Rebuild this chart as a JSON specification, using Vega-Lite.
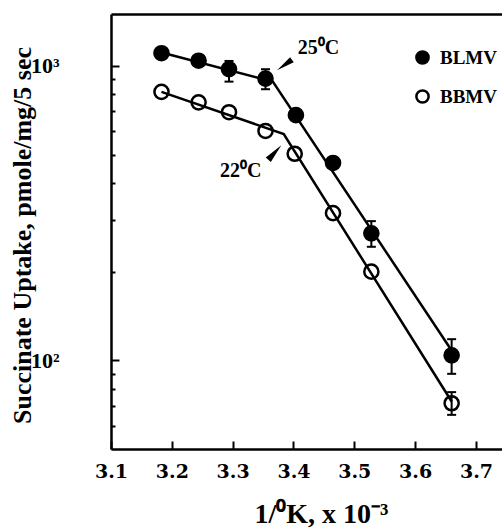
{
  "$schema": "https://vega.github.io/schema/vega-lite/v6.json",
  "autosize": {"type": "none"},
  "padding": {"left": 111, "top": 14, "right": 0, "bottom": 78},
  "width": 391,
  "height": 435,
  "background": "white",
  "config": {
    "view": {"stroke": null},
    "axis": {"grid": false, "domainColor": "black", "tickColor": "black", "labelColor": "black", "titleColor": "black"}
  },
  "datasets": {
    "pts": [
      {"series": "BLMV", "x": 3.183, "y": 1104},
      {"series": "BLMV", "x": 3.244, "y": 1041},
      {"series": "BLMV", "x": 3.294, "y": 974, "lo": 884, "hi": 1039},
      {"series": "BLMV", "x": 3.354, "y": 905, "lo": 833, "hi": 974},
      {"series": "BLMV", "x": 3.404, "y": 680},
      {"series": "BLMV", "x": 3.465, "y": 468},
      {"series": "BLMV", "x": 3.528, "y": 270, "lo": 243, "hi": 297},
      {"series": "BLMV", "x": 3.660, "y": 104, "lo": 90, "hi": 118},
      {"series": "BBMV", "x": 3.183, "y": 816},
      {"series": "BBMV", "x": 3.244, "y": 752},
      {"series": "BBMV", "x": 3.294, "y": 696},
      {"series": "BBMV", "x": 3.354, "y": 601},
      {"series": "BBMV", "x": 3.402, "y": 503},
      {"series": "BBMV", "x": 3.465, "y": 316},
      {"series": "BBMV", "x": 3.528, "y": 200},
      {"series": "BBMV", "x": 3.660, "y": 71.5, "lo": 65.3, "hi": 78}
    ],
    "fit": [
      {"series": "BLMV", "x": 3.183, "y": 1110},
      {"series": "BLMV", "x": 3.366, "y": 884},
      {"series": "BLMV", "x": 3.660, "y": 108},
      {"series": "BBMV", "x": 3.183, "y": 816},
      {"series": "BBMV", "x": 3.384, "y": 587},
      {"series": "BBMV", "x": 3.660, "y": 72.5}
    ],
    "notes": [
      {"x": 3.407, "y": 1148, "text": "25⁰C"},
      {"x": 3.279, "y": 441, "text": "22⁰C"}
    ],
    "arrows": [
      {"name": "25", "x": 3.3852, "y": 1007},
      {"name": "22", "x": 3.3693, "y": 508}
    ]
  },
  "layer": [
    {
      "data": {"name": "fit"},
      "mark": {"type": "line", "color": "black", "strokeWidth": 2.5},
      "encoding": {
        "x": {"field": "x", "type": "quantitative",
          "scale": {"domain": [3.1, 3.7428], "nice": false, "zero": false},
          "axis": {"orient": "bottom", "values": [3.1, 3.2, 3.3, 3.4, 3.5, 3.6, 3.7], "format": ".1f",
            "labelFlush": false, "labelOverlap": false, "labelBound": false,
            "tickSize": -8, "tickWidth": 2, "domainWidth": 2.5,
            "labelFont": "DejaVu Serif", "labelFontWeight": "bold", "labelFontSize": 19, "labelPadding": 21,
            "title": "1/⁰K, x 10⁻³", "titleFont": "Liberation Serif", "titleFontWeight": "bold", "titleFontSize": 28,
            "titleX": 210, "titleY": 73, "titleAlign": "center", "titleBaseline": "alphabetic", "titleAnchor": null}},
        "y": {"field": "y", "type": "quantitative",
          "scale": {"type": "log", "domain": [50, 1500], "nice": false},
          "axis": {"orient": "left", "values": [100, 1000],
            "labelExpr": "datum.value == 1000 ? '10³' : '10²'",
            "tickSize": -8, "tickWidth": 2, "domainWidth": 2.5,
            "labelFont": "Liberation Serif", "labelFontWeight": "bold", "labelFontSize": 22, "labelPadding": 60,
            "labelBaseline": "middle", "labelAlign": "right",
            "title": "Succinate Uptake, pmole/mg/5 sec", "titleFont": "Liberation Serif", "titleFontWeight": "bold", "titleFontSize": 26,
            "titleX": -89, "titleY": 221, "titleAngle": 270, "titleAlign": "center", "titleBaseline": "middle", "titleAnchor": null}},
        "detail": {"field": "series", "type": "nominal"}
      }
    },
    {
      "data": {"name": "pts"},
      "transform": [{"filter": "isValid(datum.lo)"}],
      "mark": {"type": "rule", "color": "black", "strokeWidth": 2},
      "encoding": {
        "x": {"field": "x", "type": "quantitative",
          "axis": {"orient": "top", "labels": false, "ticks": false, "title": null, "domainWidth": 2.5}},
        "y": {"field": "lo", "type": "quantitative",
          "axis": {"orient": "left", "values": [60, 70, 80, 90, 200, 300, 400, 500, 600, 700, 800, 900],
            "labels": false, "domain": false, "tickSize": -4, "tickWidth": 2, "title": null}},
        "y2": {"field": "hi"}
      }
    },
    {
      "data": {"name": "pts"},
      "transform": [{"filter": "isValid(datum.lo)"}],
      "mark": {"type": "tick", "orient": "horizontal", "color": "black", "size": 9, "thickness": 2, "opacity": 1},
      "encoding": {
        "x": {"field": "x", "type": "quantitative", "axis": null},
        "y": {"field": "lo", "type": "quantitative", "axis": null}
      }
    },
    {
      "data": {"name": "pts"},
      "transform": [{"filter": "isValid(datum.hi)"}],
      "mark": {"type": "tick", "orient": "horizontal", "color": "black", "size": 9, "thickness": 2, "opacity": 1},
      "encoding": {
        "x": {"field": "x", "type": "quantitative", "axis": null},
        "y": {"field": "hi", "type": "quantitative", "axis": null}
      }
    },
    {
      "data": {"name": "pts"},
      "mark": {"type": "point", "shape": "circle", "filled": true, "stroke": "black", "strokeWidth": 2.5, "size": 200, "opacity": 1},
      "encoding": {
        "x": {"field": "x", "type": "quantitative", "axis": null},
        "y": {"field": "y", "type": "quantitative", "axis": null},
        "fill": {"field": "series", "type": "nominal",
          "scale": {"domain": ["BLMV", "BBMV"], "range": ["black", "transparent"]},
          "legend": {"orient": "none", "legendX": 302, "legendY": 34, "title": null, "padding": 0,
            "rowPadding": 16, "labelOffset": 8, "symbolType": "circle", "symbolSize": 150,
            "symbolStrokeColor": "black", "symbolStrokeWidth": 2.5,
            "labelFont": "Liberation Serif", "labelFontWeight": "bold", "labelFontSize": 19, "labelColor": "black"}}
      }
    },
    {
      "data": {"name": "notes"},
      "mark": {"type": "text", "align": "left", "baseline": "middle", "font": "Liberation Serif", "fontWeight": "bold", "fontSize": 20, "color": "black"},
      "encoding": {
        "x": {"field": "x", "type": "quantitative", "axis": null},
        "y": {"field": "y", "type": "quantitative", "axis": null},
        "text": {"field": "text"}
      }
    },
    {
      "data": {"name": "arrows"},
      "transform": [{"filter": "datum.name == '25'"}],
      "mark": {"type": "point", "shape": "M0,-1L0.35,1L-0.35,1Z", "filled": true, "color": "black", "opacity": 1, "size": 330, "angle": 235},
      "encoding": {
        "x": {"field": "x", "type": "quantitative", "axis": null},
        "y": {"field": "y", "type": "quantitative", "axis": null}
      }
    },
    {
      "data": {"name": "arrows"},
      "transform": [{"filter": "datum.name == '22'"}],
      "mark": {"type": "point", "shape": "M0,-1L0.35,1L-0.35,1Z", "filled": true, "color": "black", "opacity": 1, "size": 380, "angle": 42},
      "encoding": {
        "x": {"field": "x", "type": "quantitative", "axis": null},
        "y": {"field": "y", "type": "quantitative", "axis": null}
      }
    }
  ],
  "resolve": {"axis": {"x": "independent", "y": "independent"}}
}
